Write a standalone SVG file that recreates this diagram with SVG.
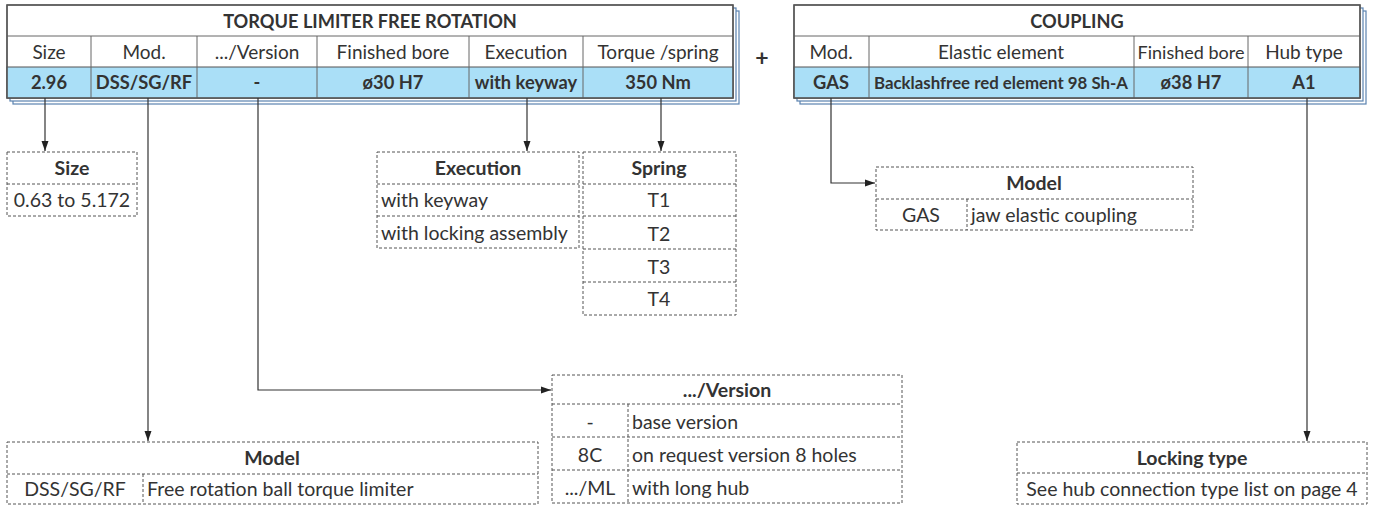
<svg xmlns="http://www.w3.org/2000/svg" width="1376" height="506" viewBox="0 0 1376 506">
<style>
text{font-family:Lato,"Liberation Sans",sans-serif;fill:#333;font-size:19.5px}
.b{font-weight:bold}
.c{text-anchor:middle}
.h{font-size:19px}
.v{font-size:18.3px}
.t{font-size:18.2px}
.main{fill:#fff;stroke:#555;stroke-width:1.3}
.blue{fill:#aadff7;stroke:#555;stroke-width:1}
.sh{fill:#fff;stroke:#5a82b0;stroke-width:1.2}
.ln{stroke:#666;stroke-width:1}
.dash{fill:#fff;stroke:#555;stroke-width:1;stroke-dasharray:3 2}
.dl{stroke:#555;stroke-width:1;stroke-dasharray:3 2}
.con{fill:none;stroke:#333;stroke-width:1.2;marker-end:url(#ah)}
</style>
<defs>
<marker id="ah" viewBox="0 0 10 10" refX="10" refY="5" markerWidth="10" markerHeight="10" markerUnits="userSpaceOnUse" orient="auto">
<path d="M0,1.5 L10,5 L0,8.5 z" fill="#222"/>
</marker>
</defs>

<g id="torque-limiter">
<rect class="sh" x="13" y="11" width="726" height="93"/>
<rect class="sh" x="10" y="8" width="726" height="93"/>
<rect class="main" x="7" y="5" width="726" height="93"/>
<rect class="blue" x="7" y="67" width="726" height="31"/>
<line class="ln" x1="7" y1="36" x2="733" y2="36"/>
<line class="ln" x1="91" y1="36" x2="91" y2="98"/>
<line class="ln" x1="197" y1="36" x2="197" y2="98"/>
<line class="ln" x1="317" y1="36" x2="317" y2="98"/>
<line class="ln" x1="469" y1="36" x2="469" y2="98"/>
<line class="ln" x1="583" y1="36" x2="583" y2="98"/>
<rect x="7" y="5" width="726" height="93" fill="none" stroke="#555" stroke-width="1.3"/>
<text class="b c t" x="370" y="27.5">TORQUE LIMITER FREE ROTATION</text>
<text class="c h" x="49" y="58.5">Size</text>
<text class="c h" x="144" y="58.5">Mod.</text>
<text class="c h" x="257" y="58.5">.../Version</text>
<text class="c h" x="393" y="58.5">Finished bore</text>
<text class="c h" x="526" y="58.5">Execution</text>
<text class="c h" x="658" y="58.5">Torque /spring</text>
<text class="b c v" x="49" y="89">2.96</text>
<text class="b c v" x="144" y="89">DSS/SG/RF</text>
<text class="b c v" x="257" y="89">-</text>
<text class="b c v" x="393" y="89">ø30 H7</text>
<text class="b c v" x="526" y="89">with keyway</text>
<text class="b c v" x="658" y="89">350 Nm</text>
</g>

<text class="b c" x="762" y="66" style="font-size:23px">+</text>

<g id="coupling">
<rect class="sh" x="800" y="11" width="566" height="93"/>
<rect class="sh" x="797" y="8" width="566" height="93"/>
<rect class="main" x="794" y="5" width="566" height="93"/>
<rect class="blue" x="794" y="67" width="566" height="31"/>
<line class="ln" x1="794" y1="36" x2="1360" y2="36"/>
<line class="ln" x1="869" y1="36" x2="869" y2="98"/>
<line class="ln" x1="1134" y1="36" x2="1134" y2="98"/>
<line class="ln" x1="1248" y1="36" x2="1248" y2="98"/>
<rect x="794" y="5" width="566" height="93" fill="none" stroke="#555" stroke-width="1.3"/>
<text class="b c t" x="1077" y="27.5">COUPLING</text>
<text class="c h" x="831" y="58.5">Mod.</text>
<text class="c h" x="1001" y="58.5">Elastic element</text>
<text class="c" x="1191" y="58.5" style="font-size:18px">Finished bore</text>
<text class="c h" x="1304" y="58.5">Hub type</text>
<text class="b c v" x="831" y="89">GAS</text>
<text class="b c" x="1001" y="89" style="font-size:17.5px" textLength="254" lengthAdjust="spacingAndGlyphs">Backlashfree red element 98 Sh-A</text>
<text class="b c v" x="1191" y="89">ø38 H7</text>
<text class="b c v" x="1304" y="89">A1</text>
</g>

<g id="connectors">
<path class="con" d="M45,98 V151"/>
<path class="con" d="M148,98 V441"/>
<path class="con" d="M258,98 V390 H551"/>
<path class="con" d="M527,98 V151"/>
<path class="con" d="M661,98 V151"/>
<path class="con" d="M831,98 V183 H875"/>
<path class="con" d="M1307,98 V441"/>
</g>

<g id="size-list">
<rect class="dash" x="7" y="152" width="130" height="64"/>
<line class="dl" x1="7" y1="184" x2="137" y2="184"/>
<text class="b c" x="72" y="175">Size</text>
<text class="c" x="72" y="207">0.63 to 5.172</text>
</g>

<g id="execution-list">
<rect class="dash" x="377" y="152" width="202" height="96"/>
<line class="dl" x1="377" y1="184" x2="579" y2="184"/>
<line class="dl" x1="377" y1="216" x2="579" y2="216"/>
<text class="b c" x="478" y="175">Execution</text>
<text x="381" y="207">with keyway</text>
<text x="381" y="240">with locking assembly</text>
</g>

<g id="spring-list">
<rect class="dash" x="583" y="152" width="153" height="163"/>
<line class="dl" x1="583" y1="184" x2="736" y2="184"/>
<line class="dl" x1="583" y1="216" x2="736" y2="216"/>
<line class="dl" x1="583" y1="249" x2="736" y2="249"/>
<line class="dl" x1="583" y1="282" x2="736" y2="282"/>
<text class="b c" x="659" y="175">Spring</text>
<text class="c" x="659" y="207">T1</text>
<text class="c" x="659" y="241">T2</text>
<text class="c" x="659" y="274">T3</text>
<text class="c" x="659" y="306">T4</text>
</g>

<g id="coupling-model-list">
<rect class="dash" x="876" y="167" width="317" height="63"/>
<line class="dl" x1="876" y1="199" x2="1193" y2="199"/>
<line class="dl" x1="967" y1="199" x2="967" y2="230"/>
<text class="b c" x="1034" y="190">Model</text>
<text class="c" x="921" y="222">GAS</text>
<text x="971" y="222">jaw elastic coupling</text>
</g>

<g id="version-list">
<rect class="dash" x="552" y="375" width="350" height="128"/>
<line class="dl" x1="552" y1="404" x2="902" y2="404"/>
<line class="dl" x1="552" y1="437" x2="902" y2="437"/>
<line class="dl" x1="552" y1="470" x2="902" y2="470"/>
<line class="dl" x1="628" y1="404" x2="628" y2="503"/>
<text class="b c" x="727" y="397">.../Version</text>
<text class="c" x="590" y="429">-</text>
<text class="c" x="590" y="462">8C</text>
<text class="c" x="590" y="495">.../ML</text>
<text x="632" y="429">base version</text>
<text x="632" y="462">on request version 8 holes</text>
<text x="632" y="495">with long hub</text>
</g>

<g id="model-list">
<rect class="dash" x="7" y="442" width="531" height="62"/>
<line class="dl" x1="7" y1="474" x2="538" y2="474"/>
<line class="dl" x1="143" y1="474" x2="143" y2="504"/>
<text class="b c" x="272" y="465">Model</text>
<text class="c" x="75" y="496">DSS/SG/RF</text>
<text x="147" y="496">Free rotation ball torque limiter</text>
</g>

<g id="locking-list">
<rect class="dash" x="1017" y="442" width="350" height="62"/>
<line class="dl" x1="1017" y1="473" x2="1367" y2="473"/>
<text class="b c" x="1192" y="465">Locking type</text>
<text class="c" x="1192" y="496">See hub connection type list on page 4</text>
</g>
</svg>
